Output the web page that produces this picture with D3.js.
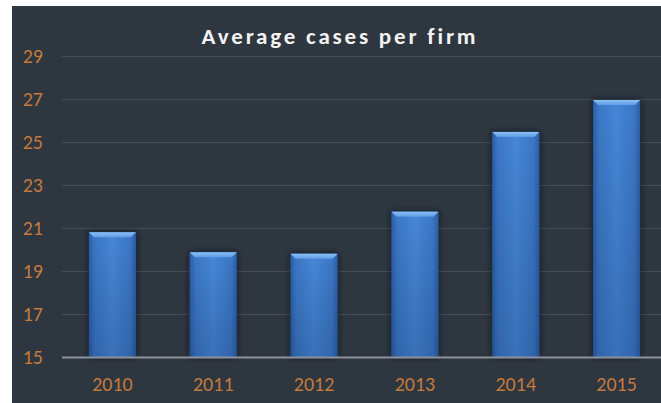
<!DOCTYPE html>
<html>
<head>
<meta charset="utf-8">
<script src="https://cdn.jsdelivr.net/npm/d3@7"></script>
<style>
  html, body { margin: 0; padding: 0; background: #ffffff; }
  svg { display: block; }
</style>
</head>
<body>
<div id="svgcontainer"></div>
<script>
const DIMENSIONS = {
    width: 661,
    height: 403
}

// chart values
const years = ["2010", "2011", "2012", "2013", "2014", "2015"];
const avgCases = [20.8, 19.87, 19.8, 21.76, 25.47, 26.95];
const yTicks = [15, 17, 19, 21, 23, 25, 27, 29];
const chartTitle = "Average cases per firm";

const data = years.map((y, i) => ({ year: y, value: avgCases[i] }));

const plot = { left: 62, right: 667, top: 56, bottom: 357 };

const svg = d3.select("#svgcontainer")
    .append("svg")
    .attr("width", DIMENSIONS.width)
    .attr("height", DIMENSIONS.height);

const defs = svg.append("defs");

// body of bar: darker at the sides
const body = defs.append("linearGradient").attr("id", "barBody")
    .attr("x1", "0%").attr("x2", "100%").attr("y1", "0%").attr("y2", "0%");
[["0%", "#2c5ea6"], ["12%", "#3b77c6"], ["50%", "#4687d8"], ["88%", "#3b77c6"], ["100%", "#2c5ea6"]]
    .forEach(s => body.append("stop").attr("offset", s[0]).attr("stop-color", s[1]));

// darken toward the bottom
const shade = defs.append("linearGradient").attr("id", "barShade")
    .attr("x1", "0%").attr("x2", "0%").attr("y1", "0%").attr("y2", "100%");
shade.append("stop").attr("offset", "0%").attr("stop-color", "#000").attr("stop-opacity", 0);
shade.append("stop").attr("offset", "100%").attr("stop-color", "#001030").attr("stop-opacity", 0.18);

const bevel = defs.append("linearGradient").attr("id", "barBevel")
    .attr("x1", "0%").attr("x2", "0%").attr("y1", "0%").attr("y2", "100%");
bevel.append("stop").attr("offset", "0%").attr("stop-color", "#8cc0f6");
bevel.append("stop").attr("offset", "100%").attr("stop-color", "#5f9ae4");

const glow = defs.append("filter").attr("id", "barGlow")
    .attr("x", "-30%").attr("y", "-10%").attr("width", "160%").attr("height", "120%");
glow.append("feDropShadow").attr("dx", 0).attr("dy", 0).attr("stdDeviation", 3)
    .attr("flood-color", "#10161e").attr("flood-opacity", 0.9);

// dark panel
svg.append("rect")
    .attr("x", 12).attr("y", 6)
    .attr("width", DIMENSIONS.width - 12).attr("height", DIMENSIONS.height - 6)
    .attr("fill", "#2e3640");

// scales
let x = d3.scaleBand()
    .domain(years)
    .range([plot.left, plot.right])
    .paddingInner(0.534)
    .paddingOuter(0.267);

let y = d3.scaleLinear()
    .domain([15, 29])
    .range([plot.bottom, plot.top]);

// gridlines
svg.append("g")
    .selectAll("line")
    .data(yTicks.slice(1))
    .enter().append("line")
    .attr("x1", plot.left).attr("x2", DIMENSIONS.width)
    .attr("y1", d => y(d) + 0.5).attr("y2", d => y(d) + 0.5)
    .attr("stroke", "#464d57").attr("stroke-width", 1);

// y axis labels
let yAxis = svg.append("g")
    .attr("transform", "translate(43,0)")
    .call(d3.axisLeft(y).tickValues(yTicks).tickSize(0).tickPadding(0));
yAxis.select(".domain").remove();
yAxis.selectAll("text")
    .attr("fill", "#c47a3c")
    .attr("font-family", "Carlito, 'Open Sans', sans-serif")
    .attr("font-size", "20px");

// bars
let bars = svg.append("g")
    .selectAll("g")
    .data(data)
    .enter().append("g");

bars.append("rect")
    .attr("x", d => x(d.year))
    .attr("y", d => y(d.value))
    .attr("width", x.bandwidth())
    .attr("height", d => plot.bottom - y(d.value))
    .attr("fill", "url(#barBody)")
    .attr("filter", "url(#barGlow)");

bars.append("rect")
    .attr("x", d => x(d.year))
    .attr("y", d => y(d.value))
    .attr("width", x.bandwidth())
    .attr("height", d => plot.bottom - y(d.value))
    .attr("fill", "url(#barShade)");

// top bevel
const bev = 5;
bars.append("path")
    .attr("d", d => {
        let x0 = x(d.year), x1 = x0 + x.bandwidth(), t = y(d.value);
        return "M" + x0 + "," + t + "L" + x1 + "," + t +
            "L" + (x1 - bev) + "," + (t + bev) + "L" + (x0 + bev) + "," + (t + bev) + "Z";
    })
    .attr("fill", "url(#barBevel)");

// x axis
let xAxis = svg.append("g")
    .attr("transform", "translate(0," + plot.bottom + ")")
    .call(d3.axisBottom(x).tickSize(0).tickPadding(20));
xAxis.select(".domain").remove();
xAxis.selectAll("text")
    .attr("fill", "#c47a3c")
    .attr("font-family", "Carlito, 'Open Sans', sans-serif")
    .attr("font-size", "20px");

svg.append("line")
    .attr("x1", plot.left).attr("x2", DIMENSIONS.width)
    .attr("y1", plot.bottom + 0.5).attr("y2", plot.bottom + 0.5)
    .attr("stroke", "#8b929b").attr("stroke-width", 2);

// title
svg.append("text")
    .attr("x", 340).attr("y", 44)
    .attr("text-anchor", "middle")
    .attr("fill", "#f2f2f2")
    .attr("font-family", "Carlito, 'Open Sans', sans-serif")
    .attr("font-weight", "bold")
    .attr("font-size", "23px")
    .attr("letter-spacing", "2.8px")
    .text(chartTitle);
</script>
</body>
</html>
